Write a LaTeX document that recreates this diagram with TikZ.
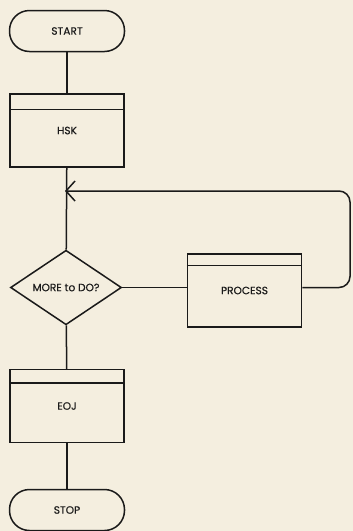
\documentclass[tikz,border=0pt]{standalone}
\usepackage{fontspec}
\newfontfamily\lab[FakeBold=0.3]{Poppins}
\usetikzlibrary{shapes.geometric,arrows.meta}
\definecolor{paper}{HTML}{F4EEDF}
\definecolor{ink}{HTML}{1A1A1A}
\begin{document}
\begin{tikzpicture}[x=1pt,y=-1pt,
  every node/.style={font=\lab\fontsize{10.6}{12}\selectfont, text=ink},
  line/.style={draw=ink, line width=1.5pt},
  term/.style={line, rectangle, rounded corners=20pt, minimum width=115pt, minimum height=41pt, inner sep=0pt},
  proc/.style={line, rectangle, minimum width=114pt, minimum height=73pt, inner sep=0pt},
  decide/.style={line, diamond, minimum width=111pt, minimum height=71pt, inner sep=0pt},
  flow/.style={line}
]
\fill[paper] (0,0) rectangle (353,531);
\useasboundingbox (0,0) rectangle (353,531);

\node[term] (start) at (67,31) {START};
\node[proc] (hsk) at (67,130.5) {HSK};
\node[decide] (more) at (66,287.5) {MORE to DO?};
\node[proc] (process) at (244.5,290.5) {PROCESS};
\node[proc] (eoj) at (67,406) {EOJ};
\node[term] (stop) at (67,510) {STOP};

\coordinate (join) at (65,191);
\coordinate (corner) at (350,191);
\coordinate (pin) at (process.west |- more.east);
\coordinate (pout) at (process.east |- more.east);

\draw[flow] ([yshift=-16pt]hsk.north west) -- ([yshift=-16pt]hsk.north east);
\draw[flow] ([yshift=-12pt]process.north west) -- ([yshift=-12pt]process.north east);
\draw[flow] ([yshift=-14pt]eoj.north west) -- ([yshift=-14pt]eoj.north east);

\draw[flow] (start) -- (hsk);
\draw[flow] (hsk) -- (more);
\draw[flow] (more) -- (eoj);
\draw[flow] (eoj) -- (stop);
\draw[flow] (more.east) -- (pin);
\draw[flow, rounded corners=11pt, -{Straight Barb[length=9pt,width=20pt,line width=1.5pt]}] (pout) -| (corner) -- (join);
\end{tikzpicture}
\end{document}
